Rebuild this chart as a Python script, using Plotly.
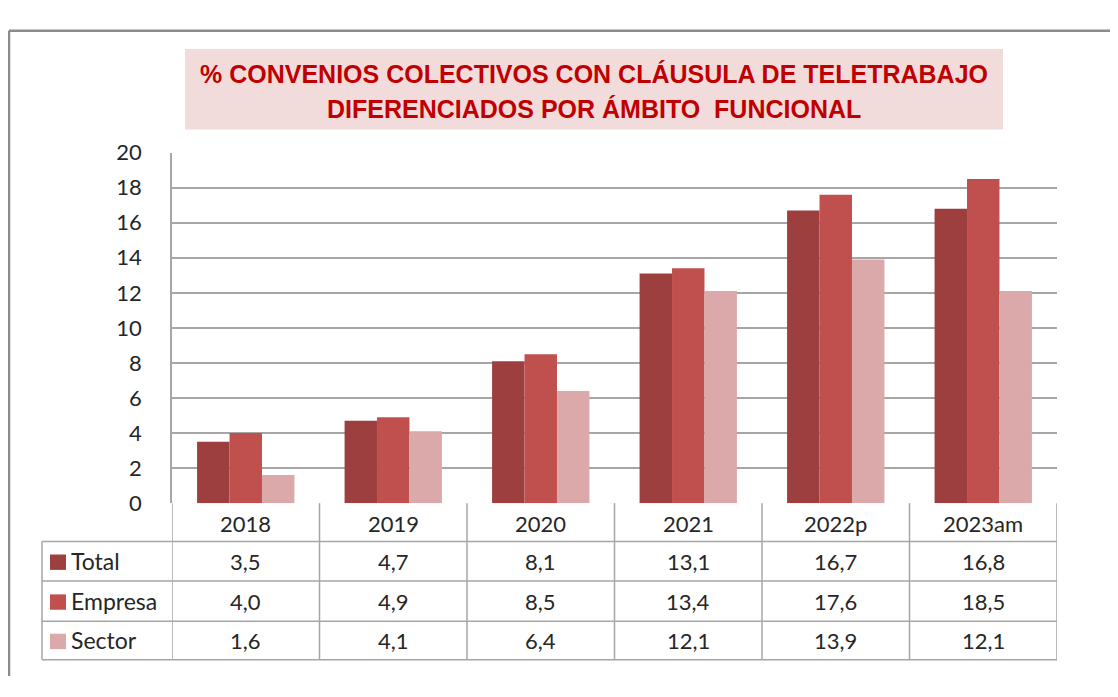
import plotly.graph_objects as go

categories = ["2018", "2019", "2020", "2021", "2022p", "2023am"]
series_names = ["Total", "Empresa", "Sector"]
total = [3.5, 4.7, 8.1, 13.1, 16.7, 16.8]
empresa = [4.0, 4.9, 8.5, 13.4, 17.6, 18.5]
sector = [1.6, 4.1, 6.4, 12.1, 13.9, 12.1]
y_ticks = [0, 2, 4, 6, 8, 10, 12, 14, 16, 18, 20]
title_lines = ["% CONVENIOS COLECTIVOS CON CLÁUSULA DE TELETRABAJO",
               "DIFERENCIADOS POR ÁMBITO  FUNCIONAL"]

colors = ["#9C3F3E", "#C0504D", "#DBA9A9"]
series_values = [total, empresa, sector]

# figure placed at the page body's 8px offset, sized to fit the window
OFF = 8
W, H = 1102, 681
def fx(px):
    return (px - OFF) / W
def fy(py):
    return 1 - (py - OFF) / H

grid_col = "#A6A6A6"
txt_col = "#262626"
font_fam = "Lato, Carlito, Open Sans, sans-serif"

fig = go.Figure()
for name, vals, col in zip(series_names, series_values, colors):
    fig.add_trace(go.Bar(x=categories, y=vals, name=name, marker=dict(color=col, line=dict(width=0)),
                         showlegend=False, hoverinfo="x+y+name"))

shapes = []
annotations = []

# outer border (top and left edges visible)
shapes.append(dict(type="line", xref="paper", yref="paper", x0=fx(9), x1=1, y0=fy(17), y1=fy(17),
                   line=dict(color="#8C8C8C", width=2.5), layer="below"))
shapes.append(dict(type="line", xref="paper", yref="paper", x0=fx(9), x1=fx(9), y0=0, y1=fy(17),
                   line=dict(color="#8C8C8C", width=2.5), layer="below"))
# title box
shapes.append(dict(type="rect", xref="paper", yref="paper", x0=fx(185), x1=fx(1003), y0=fy(120), y1=fy(36),
                   fillcolor="#F2DCDB", line=dict(width=0), layer="below"))
for line, py in zip(title_lines, [62, 99]):
    annotations.append(dict(text="<b>" + line + "</b>", xref="paper", yref="paper", x=fx(594), y=fy(py),
                            showarrow=False, xanchor="center", yanchor="middle",
                            font=dict(family="Liberation Sans Narrow, Arial Narrow, Liberation Sans, sans-serif",
                                      size=25, color="#C00000")))

# data table below the plot
row_edges = [509, 549, 590, 632, 672]
left_px = 42
n = len(categories)
for i in range(n + 1):
    shapes.append(dict(type="line", xref="x", yref="paper", x0=i - 0.5, x1=i - 0.5,
                       y0=fy(row_edges[-1]), y1=fy(row_edges[0]), line=dict(color=grid_col, width=1.5)))
shapes.append(dict(type="line", xref="paper", yref="paper", x0=fx(left_px), x1=fx(left_px),
                   y0=fy(row_edges[-1]), y1=fy(row_edges[1]), line=dict(color=grid_col, width=1.5)))
for k, r in enumerate(row_edges):
    if k == 0:
        continue
    shapes.append(dict(type="line", xref="paper", yref="paper", x0=fx(left_px), x1=fx(172),
                       y0=fy(r), y1=fy(r), line=dict(color=grid_col, width=1.5)))
    shapes.append(dict(type="line", xref="x", yref="paper", x0=-0.5, x1=n - 0.5,
                       y0=fy(r), y1=fy(r), line=dict(color=grid_col, width=1.5)))

for i, c in enumerate(categories):
    annotations.append(dict(text=c, xref="x", yref="paper", x=i, y=fy((row_edges[0] + row_edges[1]) / 2 + 1),
                            showarrow=False, xanchor="center", yanchor="middle",
                            font=dict(family=font_fam, size=22, color=txt_col)))
for r, (name, vals, col) in enumerate(zip(series_names, series_values, colors)):
    yc = (row_edges[r + 1] + row_edges[r + 2]) / 2
    shapes.append(dict(type="rect", xref="paper", yref="paper", x0=fx(50), x1=fx(66),
                       y0=fy(yc + 9), y1=fy(yc - 7), fillcolor=col, line=dict(width=0)))
    annotations.append(dict(text=name, xref="paper", yref="paper", x=fx(69), y=fy(yc),
                            showarrow=False, xanchor="left", yanchor="middle",
                            font=dict(family=font_fam, size=23, color=txt_col)))
    for i, v in enumerate(vals):
        annotations.append(dict(text=f"{v:.1f}".replace(".", ","), xref="x", yref="paper", x=i, y=fy(yc),
                                showarrow=False, xanchor="center", yanchor="middle",
                                font=dict(family=font_fam, size=22, color=txt_col)))

fig.update_layout(
    width=W, height=H, margin=dict(l=0, r=0, t=0, b=0),
    paper_bgcolor="white", plot_bgcolor="white",
    barmode="group", bargap=0.34, bargroupgap=0,
    xaxis=dict(domain=[fx(172), fx(1057)], range=[-0.5, n - 0.5], showticklabels=False, showgrid=False,
               showline=False, zeroline=False, fixedrange=True),
    yaxis=dict(domain=[fy(509), fy(144)], range=[0, 20], tickvals=y_ticks, showgrid=True,
               gridcolor=grid_col, gridwidth=1.5, zeroline=False, showline=True, linecolor=grid_col,
               linewidth=1.5, ticks="", ticklabelstandoff=24,
               tickfont=dict(family=font_fam, size=22, color=txt_col), fixedrange=True),
    shapes=shapes, annotations=annotations,
)

fig.write_html("out.html")
